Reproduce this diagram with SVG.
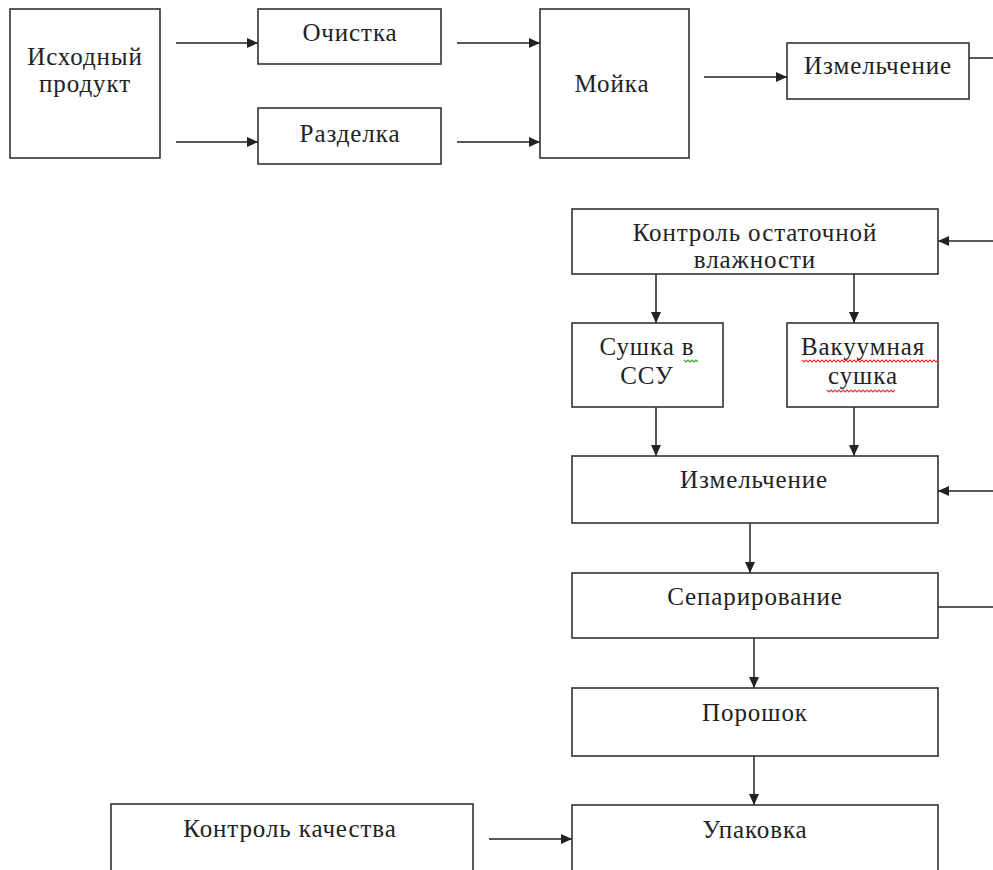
<svg xmlns="http://www.w3.org/2000/svg" width="993" height="870" viewBox="0 0 993 870">
<defs>
<marker id="ah" markerUnits="userSpaceOnUse" markerWidth="12" markerHeight="10" refX="11" refY="5" orient="auto">
<path d="M0,0 L11,5 L0,10 Z" fill="#222"/>
</marker>
<style>
.box{fill:#fff;stroke:#333;stroke-width:1.6}
.t{font-family:'Liberation Serif','DejaVu Serif',serif;font-size:25px;letter-spacing:0.9px;fill:#222;text-anchor:middle}
.c{fill:none;stroke:#222;stroke-width:1.5}
.a{marker-end:url(#ah)}
.sq{fill:none;stroke-width:1.1}
</style>
</defs>
<rect width="993" height="870" fill="#fff"/>

<g id="connectors">
<line class="c a" x1="176" y1="43" x2="258" y2="43"/>
<line class="c a" x1="176" y1="142" x2="258" y2="142"/>
<line class="c a" x1="457" y1="43" x2="540" y2="43"/>
<line class="c a" x1="457" y1="142" x2="540" y2="142"/>
<line class="c a" x1="704" y1="77" x2="787" y2="77"/>
<line class="c" x1="969" y1="58" x2="993" y2="58"/>
<line class="c a" x1="993" y1="241" x2="938" y2="241"/>
<line class="c a" x1="656" y1="274" x2="656" y2="323"/>
<line class="c a" x1="854" y1="274" x2="854" y2="323"/>
<line class="c a" x1="656" y1="407" x2="656" y2="456"/>
<line class="c a" x1="854" y1="407" x2="854" y2="456"/>
<line class="c a" x1="993" y1="491" x2="938" y2="491"/>
<line class="c a" x1="750" y1="523" x2="750" y2="573"/>
<line class="c" x1="938" y1="607" x2="993" y2="607"/>
<line class="c a" x1="754" y1="638" x2="754" y2="688"/>
<line class="c a" x1="754" y1="756" x2="754" y2="805"/>
<line class="c a" x1="489" y1="839" x2="572" y2="839"/>
</g>

<g id="iskhodny">
<rect class="box" x="10" y="9" width="150" height="149"/>
<text class="t" x="85" y="65">Исходный</text>
<text class="t" x="85" y="92">продукт</text>
</g>
<g id="ochistka">
<rect class="box" x="258" y="9" width="183" height="55"/>
<text class="t" x="350" y="41">Очистка</text>
</g>
<g id="razdelka">
<rect class="box" x="258" y="108" width="183" height="56"/>
<text class="t" x="350" y="142">Разделка</text>
</g>
<g id="moyka">
<rect class="box" x="540" y="9" width="149" height="149"/>
<text class="t" x="612" y="92">Мойка</text>
</g>
<g id="izmelchenie1">
<rect class="box" x="787" y="43" width="182" height="56"/>
<text class="t" x="878" y="74">Измельчение</text>
</g>
<g id="kontrol-vlazhnosti">
<rect class="box" x="572" y="209" width="366" height="65"/>
<text class="t" x="755" y="241">Контроль остаточной</text>
<text class="t" x="755" y="268">влажности</text>
</g>
<g id="sushka-ssu">
<rect class="box" x="572" y="323" width="151" height="84"/>
<text class="t" x="647" y="355">Сушка в</text>
<text class="t" x="647" y="384">ССУ</text>
<path class="sq" stroke="#3a3" d="M684,360 l2,2 l2,-2 l2,2 l2,-2 l2,2 l2,-2 l2,2"/>
</g>
<g id="vakuum-sushka">
<rect class="box" x="787" y="323" width="151" height="84"/>
<text class="t" x="863" y="355">Вакуумная</text>
<text class="t" x="863" y="384">сушка</text>
<path class="sq" stroke="#e33" d="M802,360 l2,2 l2,-2 l2,2 l2,-2 l2,2 l2,-2 l2,2 l2,-2 l2,2 l2,-2 l2,2 l2,-2 l2,2 l2,-2 l2,2 l2,-2 l2,2 l2,-2 l2,2 l2,-2 l2,2 l2,-2 l2,2 l2,-2 l2,2 l2,-2 l2,2 l2,-2 l2,2 l2,-2 l2,2 l2,-2 l2,2 l2,-2 l2,2 l2,-2 l2,2 l2,-2 l2,2 l2,-2 l2,2 l2,-2 l2,2 l2,-2 l2,2 l2,-2 l2,2 l2,-2 l2,2 l2,-2 l2,2 l2,-2 l2,2 l2,-2 l2,2 l2,-2 l2,2 l2,-2 l2,2 l2,-2 l2,2 l2,-2 l2,2 l2,-2 l2,2 l2,-2 l2,2 l2,-2"/>
<path class="sq" stroke="#e33" d="M827,390 l2,2 l2,-2 l2,2 l2,-2 l2,2 l2,-2 l2,2 l2,-2 l2,2 l2,-2 l2,2 l2,-2 l2,2 l2,-2 l2,2 l2,-2 l2,2 l2,-2 l2,2 l2,-2 l2,2 l2,-2 l2,2 l2,-2 l2,2 l2,-2 l2,2 l2,-2 l2,2 l2,-2 l2,2 l2,-2 l2,2 l2,-2"/>
</g>
<g id="izmelchenie2">
<rect class="box" x="572" y="456" width="366" height="67"/>
<text class="t" x="754" y="488">Измельчение</text>
</g>
<g id="separirovanie">
<rect class="box" x="572" y="573" width="366" height="65"/>
<text class="t" x="755" y="605">Сепарирование</text>
</g>
<g id="poroshok">
<rect class="box" x="572" y="688" width="366" height="68"/>
<text class="t" x="755" y="721">Порошок</text>
</g>
<g id="upakovka">
<rect class="box" x="572" y="805" width="366" height="80"/>
<text class="t" x="755" y="838">Упаковка</text>
</g>
<g id="kontrol-kachestva">
<rect class="box" x="111" y="804" width="362" height="80"/>
<text class="t" x="290" y="837">Контроль качества</text>
</g>
</svg>
